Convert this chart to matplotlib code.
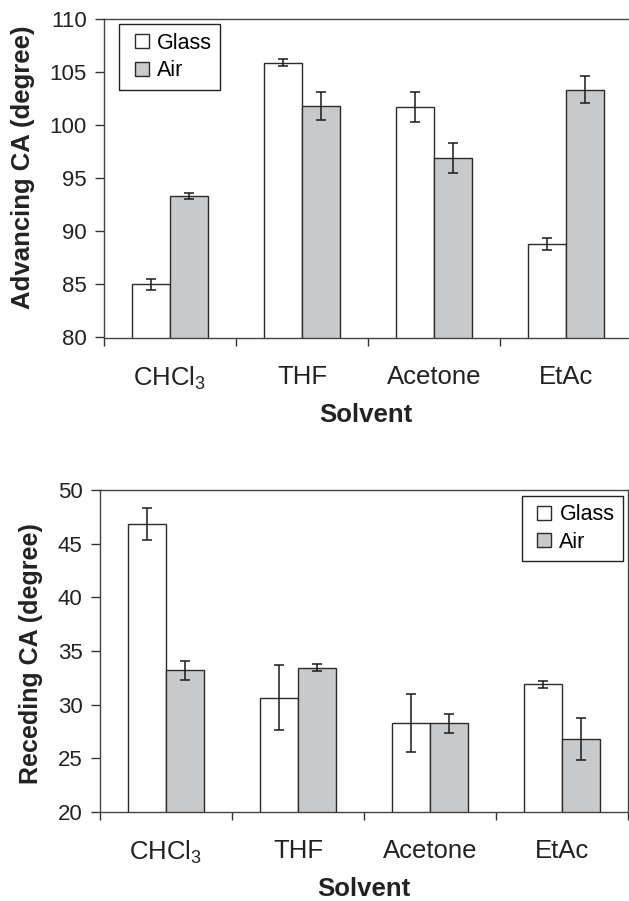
import numpy as np
import matplotlib
matplotlib.use("Agg")
import matplotlib.pyplot as plt
from matplotlib.lines import Line2D

plt.rcParams['font.family'] = ['Liberation Sans', 'DejaVu Sans']
plt.rcParams['mathtext.fontset'] = 'custom'
plt.rcParams['mathtext.rm'] = 'Liberation Sans'

# data
solvents = ['$\\mathregular{CHCl_3}$', 'THF', 'Acetone', 'EtAc']
series = ['Glass', 'Air']

adv_glass = [85.0, 105.9, 101.7, 88.8]
adv_glass_err = [0.5, 0.33, 1.4, 0.6]
adv_air = [93.3, 101.8, 96.9, 103.35]
adv_air_err = [0.27, 1.3, 1.4, 1.3]

rec_glass = [46.8, 30.65, 28.25, 31.9]
rec_glass_err = [1.5, 3.0, 2.7, 0.35]
rec_air = [33.2, 33.45, 28.25, 26.8]
rec_air_err = [0.9, 0.3, 0.85, 2.0]

W, H = 629, 901
fig = plt.figure(figsize=(W / 100, H / 100), dpi=100)

edge = '#2b2b2b'
fills = ['white', '#c8c9cb']
bw = 0.288


def draw(ax, glass, glass_err, air, air_err, ylim, yticks):
    x = np.arange(len(solvents))
    for i, (vals, errs) in enumerate([(glass, glass_err), (air, air_err)]):
        pos = x + (i - 0.5) * bw
        ax.bar(pos, vals, width=bw, color=fills[i], edgecolor=edge, linewidth=1.0, zorder=2)
        ax.errorbar(pos, vals, yerr=errs, fmt='none', ecolor='#1a1a1a', elinewidth=1.1,
                    capsize=3.6, capthick=1.1, zorder=3)
    ax.set_xlim(-0.5, len(solvents) - 0.5)
    ax.set_ylim(*ylim)
    ax.set_yticks(yticks)
    ax.set_xticks(x)
    ax.set_xticklabels(solvents)
    # category boundary ticks, Excel style
    ax.set_xticks(np.arange(-0.5, len(solvents)), minor=True)
    ax.tick_params(axis='x', which='major', length=0, pad=19.5, labelsize=18.5, colors='#222')
    ax.tick_params(axis='x', which='minor', length=6, width=1, direction='out', color='#333')
    ax.tick_params(axis='y', length=6.5, width=1, direction='out', pad=6, labelsize=16,
                   colors='#222', color='#333')
    for s in ax.spines.values():
        s.set_color('#444444')
        s.set_linewidth(1.0)


def legend(ax, loc, px, py):
    handles = [Line2D([], [], ls='none', marker='s', markersize=9.5, markerfacecolor=fills[i],
                      markeredgecolor=edge, markeredgewidth=1.0) for i in range(2)]
    leg = ax.legend(handles, series, loc=loc, bbox_to_anchor=(px / W, 1 - py / H),
                    bbox_transform=fig.transFigure, borderaxespad=0, fontsize=15.5,
                    frameon=True, fancybox=False, framealpha=1, edgecolor='#222',
                    handlelength=1.3, handletextpad=0.05, labelspacing=0.3, borderpad=0.4)
    leg.get_frame().set_linewidth(1.0)


ax1 = fig.add_axes([104 / W, 1 - 337.5 / H, 528 / W, 318.5 / H])
draw(ax1, adv_glass, adv_glass_err, adv_air, adv_air_err, (80, 110), np.arange(80, 111, 5))
legend(ax1, 'upper left', 119, 24)

ax2 = fig.add_axes([100 / W, 1 - 812 / H, 528 / W, 322 / H])
draw(ax2, rec_glass, rec_glass_err, rec_air, rec_air_err, (20, 50), np.arange(20, 51, 5))
legend(ax2, 'upper right', 623, 495.5)

# axis titles
fig.text(23 / W, 1 - 167 / H, 'Advancing CA (degree)', rotation=90, fontsize=18.5,
         fontweight='bold', color='#222', ha='center', va='center')
fig.text(31 / W, 1 - 654 / H, 'Receding CA (degree)', rotation=90, fontsize=18,
         fontweight='bold', color='#222', ha='center', va='center')
fig.text(366 / W, 1 - 415 / H, 'Solvent', fontsize=18.5, fontweight='bold', color='#222',
         ha='center', va='center')
fig.text(364 / W, 1 - 889 / H, 'Solvent', fontsize=18.5, fontweight='bold', color='#222',
         ha='center', va='center')

fig.savefig('out.png', dpi=100)
